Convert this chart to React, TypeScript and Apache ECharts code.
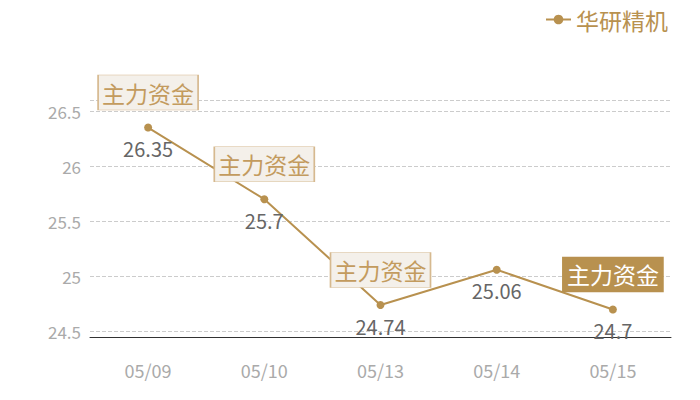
import React, { useEffect, useRef } from "react";
import * as echarts from "echarts";

const dates = ["05/09", "05/10", "05/13", "05/14", "05/15"];
const prices = [26.35, 25.7, 24.74, 25.06, 24.7];
const markIndices = [0, 1, 2, 4];
const markDark = [false, false, false, true];
const markText = "主力资金";
const seriesName = "华研精机";

const GOLD = "#b8914f";
const FONT = "'Noto Sans CJK SC', 'Noto Sans', sans-serif";

export default function App() {
  const ref = useRef<HTMLDivElement>(null);
  useEffect(() => {
    document.body.style.margin = "0";
    const chart = echarts.init(ref.current!, null, { renderer: "svg" });
    const markData = markIndices.map((idx, i) => ({
      coord: [idx, prices[idx]],
      itemStyle: markDark[i]
        ? { color: GOLD, borderColor: GOLD, borderWidth: 1 }
        : { color: "#f4f0ea", borderColor: "#d6b98f", borderWidth: 1 },
      label: {
        show: true,
        position: "inside",
        formatter: markText,
        color: markDark[i] ? "#ffffff" : "#c39b5e",
        fontSize: 23,
        fontFamily: FONT,
      },
    }));
    chart.setOption({
      animation: false,
      textStyle: { fontFamily: FONT },
      legend: {
        right: 27,
        top: 3,
        itemWidth: 25,
        itemHeight: 12,
        itemGap: 6,
        textStyle: { fontSize: 23, color: GOLD, fontFamily: FONT },
        data: [seriesName],
      },
      grid: { left: 90, right: 29, top: 100, bottom: 63 },
      xAxis: {
        type: "category",
        data: dates,
        boundaryGap: true,
        axisLine: { lineStyle: { color: "#333", width: 1 } },
        axisTick: { show: false },
        axisLabel: { color: "#aaaaaa", fontSize: 18, margin: 24, fontFamily: FONT },
      },
      yAxis: {
        type: "value",
        min: 24.45,
        max: 26.6,
        axisLine: { show: false },
        axisTick: { show: false },
        axisLabel: {
          color: "#aaaaaa",
          fontSize: 17,
          margin: 9,
          showMinLabel: false,
          showMaxLabel: false,
          fontFamily: FONT,
        },
        splitLine: { lineStyle: { type: "dashed", color: "#cccccc" } },
      },
      series: [
        {
          name: seriesName,
          type: "line",
          data: prices,
          symbol: "circle",
          symbolSize: 8,
          itemStyle: { color: GOLD },
          lineStyle: { color: GOLD, width: 2 },
          label: {
            show: true,
            position: "bottom",
            distance: 7,
            color: "#666666",
            fontSize: 20,
            fontFamily: FONT,
          },
          markPoint: {
            symbol: "rect",
            symbolSize: [100, 35],
            symbolOffset: [0, -35],
            data: markData,
          },
        },
      ],
    });
    return () => chart.dispose();
  }, []);
  return <div ref={ref} style={{ width: 700, height: 400 }} />;
}
